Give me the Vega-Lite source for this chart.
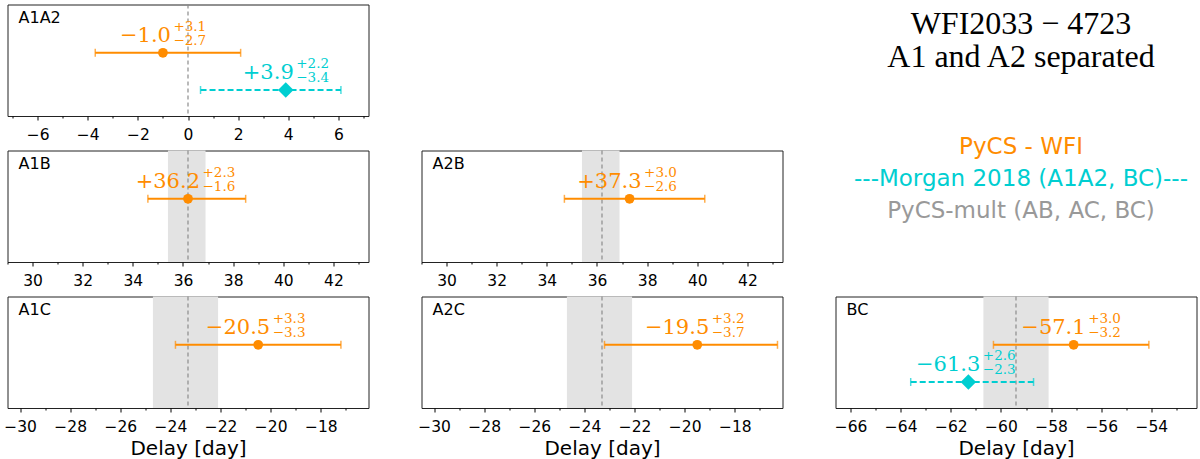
{
  "$schema": "https://vega.github.io/schema/vega-lite/v6.json",
  "padding": {"left": 2.5, "top": 2.5, "right": 0, "bottom": 0},
  "datasets": {
    "meas": [
      {"pair": "A1A2", "source": "PyCS - WFI", "delay": -1.0, "up": 3.1, "down": -2.7, "lo": -3.7, "hi": 2.1},
      {"pair": "A1A2", "source": "Morgan 2018", "delay": 3.9, "up": 2.2, "down": -3.4, "lo": 0.5, "hi": 6.1},
      {"pair": "A1B", "source": "PyCS - WFI", "delay": 36.2, "up": 2.3, "down": -1.6, "lo": 34.6, "hi": 38.5},
      {"pair": "A2B", "source": "PyCS - WFI", "delay": 37.3, "up": 3.0, "down": -2.6, "lo": 34.7, "hi": 40.3},
      {"pair": "A1C", "source": "PyCS - WFI", "delay": -20.5, "up": 3.3, "down": -3.3, "lo": -23.8, "hi": -17.2},
      {"pair": "A2C", "source": "PyCS - WFI", "delay": -19.5, "up": 3.2, "down": -3.7, "lo": -23.2, "hi": -16.3},
      {"pair": "BC", "source": "PyCS - WFI", "delay": -57.1, "up": 3.0, "down": -3.2, "lo": -60.3, "hi": -54.1},
      {"pair": "BC", "source": "Morgan 2018", "delay": -61.3, "up": 2.6, "down": -2.3, "lo": -63.6, "hi": -58.7}
    ],
    "refs": [
      {"pair": "A1A2", "ref": 0},
      {"pair": "A1B", "ref": 36.2, "lo": 35.4, "hi": 36.9},
      {"pair": "A2B", "ref": 36.2, "lo": 35.4, "hi": 36.9},
      {"pair": "A1C", "ref": -23.3, "lo": -24.7, "hi": -22.1},
      {"pair": "A2C", "ref": -23.3, "lo": -24.7, "hi": -22.1},
      {"pair": "BC", "ref": -59.4, "lo": -60.7, "hi": -58.1}
    ]
  },
  "bounds": "flush",
  "columns": 3,
  "spacing": {"row": 34, "column": 53},
  "concat": [
    {
      "width": 361, "height": 111.5,
      "title": {"text": "A1A2"},
      "layer": [
        {"data": {"name": "refs"}, "transform": [{"filter": "datum.pair === 'A1A2'"}],
         "mark": {"type": "rule", "color": "#8c8c8c", "strokeDash": [4, 3], "strokeWidth": 1.2},
         "encoding": {"x": {"field": "ref", "type": "quantitative", "scale": {"domain": [-7.2, 7.2], "nice": false, "zero": false},
           "axis": {"title": null, "tickCount": 15, "labelExpr": "datum.value % 2 === 0 ? datum.label : ''", "tickSize": {"condition": {"test": "datum.value % 2 === 0", "value": 4}, "value": 2}}}}},
        {"data": {"name": "meas"}, "transform": [{"filter": "datum.pair === 'A1A2'"}],
         "encoding": {
           "y": {"field": "source", "type": "nominal", "scale": {"type": "point", "domain": ["PyCS - WFI", "Morgan 2018"], "padding": 1.1667, "align": 0.65}, "axis": null},
           "color": {"field": "source", "type": "nominal", "scale": {"domain": ["PyCS - WFI", "Morgan 2018"], "range": ["#ff8c00", "#00ced1"]}, "legend": null}
         },
         "layer": [
           {"mark": {"type": "rule", "strokeWidth": 2}, "encoding": {"x": {"field": "lo", "type": "quantitative"}, "x2": {"field": "hi"}, "strokeDash": {"field": "source", "type": "nominal", "scale": {"domain": ["PyCS - WFI", "Morgan 2018"], "range": [[1, 0], [6, 3]]}, "legend": null}}},
           {"mark": {"type": "tick", "orient": "vertical", "size": 8, "thickness": 1.5}, "encoding": {"x": {"field": "lo", "type": "quantitative"}}},
           {"mark": {"type": "tick", "orient": "vertical", "size": 8, "thickness": 1.5}, "encoding": {"x": {"field": "hi", "type": "quantitative"}}},
           {"mark": {"type": "point", "filled": true, "opacity": 1}, "encoding": {"x": {"field": "delay", "type": "quantitative"}, "shape": {"field": "source", "type": "nominal", "scale": {"domain": ["PyCS - WFI", "Morgan 2018"], "range": ["circle", "diamond"]}, "legend": null}, "size": {"condition": {"test": "datum.source === 'Morgan 2018'", "value": 240}, "value": 95}}},
           {"mark": {"type": "text", "font": "DejaVu Serif", "fontSize": 21, "align": "right", "baseline": "alphabetic", "dx": 8, "dy": -10.5}, "encoding": {"x": {"field": "delay", "type": "quantitative"}, "text": {"field": "delay", "type": "quantitative", "format": "+.1f"}}},
           {"mark": {"type": "text", "font": "DejaVu Serif", "fontSize": 13.5, "align": "left", "baseline": "alphabetic", "dx": 10.5, "dy": -22}, "encoding": {"x": {"field": "delay", "type": "quantitative"}, "text": {"field": "up", "type": "quantitative", "format": "+.1f"}}},
           {"mark": {"type": "text", "font": "DejaVu Serif", "fontSize": 13.5, "align": "left", "baseline": "alphabetic", "dx": 10.5, "dy": -7.5}, "encoding": {"x": {"field": "delay", "type": "quantitative"}, "text": {"field": "down", "type": "quantitative", "format": "+.1f"}}}
         ]}
      ]
    },
    {
      "width": 361, "height": 111.5,
      "view": {"stroke": null},
      "data": {"values": []},
      "mark": {"type": "point"},
      "encoding": {}
    },
    {
      "width": 361, "height": 111.5,
      "view": {"stroke": null},
      "data": {"values": [{"t": "WFI2033 − 4723\nA1 and A2 separated"}]},
      "mark": {"type": "text", "font": "Liberation Serif", "fontSize": 32, "lineBreak": "\n", "lineHeight": 33.3, "align": "center", "baseline": "alphabetic", "dx": 5, "dy": -26.75, "color": "#000"},
      "encoding": {"text": {"field": "t", "type": "nominal"}}
    },
    {
      "width": 361, "height": 111.5,
      "title": {"text": "A1B"},
      "layer": [
        {"data": {"name": "refs"}, "transform": [{"filter": "datum.pair === 'A1B'"}],
         "mark": {"type": "rect", "color": "#e3e3e3"},
         "encoding": {"x": {"field": "lo", "type": "quantitative", "scale": {"domain": [29.0, 43.4], "nice": false, "zero": false},
           "axis": {"title": null, "tickCount": 15, "labelExpr": "datum.value % 2 === 0 ? datum.label : ''", "tickSize": {"condition": {"test": "datum.value % 2 === 0", "value": 4}, "value": 2}}}, "x2": {"field": "hi"}}},
        {"data": {"name": "refs"}, "transform": [{"filter": "datum.pair === 'A1B'"}],
         "mark": {"type": "rule", "color": "#8c8c8c", "strokeDash": [4, 3], "strokeWidth": 1.2},
         "encoding": {"x": {"field": "ref", "type": "quantitative"}}},
        {"data": {"name": "meas"}, "transform": [{"filter": "datum.pair === 'A1B'"}],
         "encoding": {
           "y": {"field": "source", "type": "nominal", "scale": {"type": "point", "domain": ["PyCS - WFI", "Morgan 2018"], "padding": 1.1667, "align": 0.65}, "axis": null},
           "color": {"field": "source", "type": "nominal", "scale": {"domain": ["PyCS - WFI", "Morgan 2018"], "range": ["#ff8c00", "#00ced1"]}, "legend": null}
         },
         "layer": [
           {"mark": {"type": "rule", "strokeWidth": 2}, "encoding": {"x": {"field": "lo", "type": "quantitative"}, "x2": {"field": "hi"}, "strokeDash": {"field": "source", "type": "nominal", "scale": {"domain": ["PyCS - WFI", "Morgan 2018"], "range": [[1, 0], [6, 3]]}, "legend": null}}},
           {"mark": {"type": "tick", "orient": "vertical", "size": 8, "thickness": 1.5}, "encoding": {"x": {"field": "lo", "type": "quantitative"}}},
           {"mark": {"type": "tick", "orient": "vertical", "size": 8, "thickness": 1.5}, "encoding": {"x": {"field": "hi", "type": "quantitative"}}},
           {"mark": {"type": "point", "filled": true, "opacity": 1}, "encoding": {"x": {"field": "delay", "type": "quantitative"}, "shape": {"field": "source", "type": "nominal", "scale": {"domain": ["PyCS - WFI", "Morgan 2018"], "range": ["circle", "diamond"]}, "legend": null}, "size": {"condition": {"test": "datum.source === 'Morgan 2018'", "value": 240}, "value": 95}}},
           {"mark": {"type": "text", "font": "DejaVu Serif", "fontSize": 21, "align": "right", "baseline": "alphabetic", "dx": 12, "dy": -10.5}, "encoding": {"x": {"field": "delay", "type": "quantitative"}, "text": {"field": "delay", "type": "quantitative", "format": "+.1f"}}},
           {"mark": {"type": "text", "font": "DejaVu Serif", "fontSize": 13.5, "align": "left", "baseline": "alphabetic", "dx": 14.5, "dy": -22}, "encoding": {"x": {"field": "delay", "type": "quantitative"}, "text": {"field": "up", "type": "quantitative", "format": "+.1f"}}},
           {"mark": {"type": "text", "font": "DejaVu Serif", "fontSize": 13.5, "align": "left", "baseline": "alphabetic", "dx": 14.5, "dy": -7.5}, "encoding": {"x": {"field": "delay", "type": "quantitative"}, "text": {"field": "down", "type": "quantitative", "format": "+.1f"}}}
         ]}
      ]
    },
    {
      "width": 361, "height": 111.5,
      "title": {"text": "A2B"},
      "layer": [
        {"data": {"name": "refs"}, "transform": [{"filter": "datum.pair === 'A2B'"}],
         "mark": {"type": "rect", "color": "#e3e3e3"},
         "encoding": {"x": {"field": "lo", "type": "quantitative", "scale": {"domain": [29.0, 43.4], "nice": false, "zero": false},
           "axis": {"title": null, "tickCount": 15, "labelExpr": "datum.value % 2 === 0 ? datum.label : ''", "tickSize": {"condition": {"test": "datum.value % 2 === 0", "value": 4}, "value": 2}}}, "x2": {"field": "hi"}}},
        {"data": {"name": "refs"}, "transform": [{"filter": "datum.pair === 'A2B'"}],
         "mark": {"type": "rule", "color": "#8c8c8c", "strokeDash": [4, 3], "strokeWidth": 1.2},
         "encoding": {"x": {"field": "ref", "type": "quantitative"}}},
        {"data": {"name": "meas"}, "transform": [{"filter": "datum.pair === 'A2B'"}],
         "encoding": {
           "y": {"field": "source", "type": "nominal", "scale": {"type": "point", "domain": ["PyCS - WFI", "Morgan 2018"], "padding": 1.1667, "align": 0.65}, "axis": null},
           "color": {"field": "source", "type": "nominal", "scale": {"domain": ["PyCS - WFI", "Morgan 2018"], "range": ["#ff8c00", "#00ced1"]}, "legend": null}
         },
         "layer": [
           {"mark": {"type": "rule", "strokeWidth": 2}, "encoding": {"x": {"field": "lo", "type": "quantitative"}, "x2": {"field": "hi"}, "strokeDash": {"field": "source", "type": "nominal", "scale": {"domain": ["PyCS - WFI", "Morgan 2018"], "range": [[1, 0], [6, 3]]}, "legend": null}}},
           {"mark": {"type": "tick", "orient": "vertical", "size": 8, "thickness": 1.5}, "encoding": {"x": {"field": "lo", "type": "quantitative"}}},
           {"mark": {"type": "tick", "orient": "vertical", "size": 8, "thickness": 1.5}, "encoding": {"x": {"field": "hi", "type": "quantitative"}}},
           {"mark": {"type": "point", "filled": true, "opacity": 1}, "encoding": {"x": {"field": "delay", "type": "quantitative"}, "shape": {"field": "source", "type": "nominal", "scale": {"domain": ["PyCS - WFI", "Morgan 2018"], "range": ["circle", "diamond"]}, "legend": null}, "size": {"condition": {"test": "datum.source === 'Morgan 2018'", "value": 240}, "value": 95}}},
           {"mark": {"type": "text", "font": "DejaVu Serif", "fontSize": 21, "align": "right", "baseline": "alphabetic", "dx": 12, "dy": -10.5}, "encoding": {"x": {"field": "delay", "type": "quantitative"}, "text": {"field": "delay", "type": "quantitative", "format": "+.1f"}}},
           {"mark": {"type": "text", "font": "DejaVu Serif", "fontSize": 13.5, "align": "left", "baseline": "alphabetic", "dx": 14.5, "dy": -22}, "encoding": {"x": {"field": "delay", "type": "quantitative"}, "text": {"field": "up", "type": "quantitative", "format": "+.1f"}}},
           {"mark": {"type": "text", "font": "DejaVu Serif", "fontSize": 13.5, "align": "left", "baseline": "alphabetic", "dx": 14.5, "dy": -7.5}, "encoding": {"x": {"field": "delay", "type": "quantitative"}, "text": {"field": "down", "type": "quantitative", "format": "+.1f"}}}
         ]}
      ]
    },
    {
      "width": 361, "height": 111.5,
      "view": {"stroke": null},
      "data": {"values": [{"entry": "PyCS - WFI"}, {"entry": "---Morgan 2018 (A1A2, BC)---"}, {"entry": "PyCS-mult (AB, AC, BC)"}]},
      "mark": {"type": "text", "font": "DejaVu Sans", "fontSize": 23, "align": "center", "baseline": "alphabetic", "dx": 5, "dy": -20.4},
      "encoding": {
        "y": {"field": "entry", "type": "nominal", "sort": null, "scale": {"type": "point", "padding": 0.75}, "axis": null},
        "text": {"field": "entry", "type": "nominal"},
        "color": {"condition": [{"test": "datum.entry === 'PyCS - WFI'", "value": "#ff8c00"}, {"test": "datum.entry === '---Morgan 2018 (A1A2, BC)---'", "value": "#00ced1"}], "value": "#999999"}
      }
    },
    {
      "width": 361, "height": 111.5,
      "title": {"text": "A1C"},
      "layer": [
        {"data": {"name": "refs"}, "transform": [{"filter": "datum.pair === 'A1C'"}],
         "mark": {"type": "rect", "color": "#e3e3e3"},
         "encoding": {"x": {"field": "lo", "type": "quantitative", "scale": {"domain": [-30.5, -16.1], "nice": false, "zero": false},
           "axis": {"title": "Delay [day]", "tickCount": 15, "labelExpr": "datum.value % 2 === 0 ? datum.label : ''", "tickSize": {"condition": {"test": "datum.value % 2 === 0", "value": 4}, "value": 2}}}, "x2": {"field": "hi"}}},
        {"data": {"name": "refs"}, "transform": [{"filter": "datum.pair === 'A1C'"}],
         "mark": {"type": "rule", "color": "#8c8c8c", "strokeDash": [4, 3], "strokeWidth": 1.2},
         "encoding": {"x": {"field": "ref", "type": "quantitative"}}},
        {"data": {"name": "meas"}, "transform": [{"filter": "datum.pair === 'A1C'"}],
         "encoding": {
           "y": {"field": "source", "type": "nominal", "scale": {"type": "point", "domain": ["PyCS - WFI", "Morgan 2018"], "padding": 1.1667, "align": 0.65}, "axis": null},
           "color": {"field": "source", "type": "nominal", "scale": {"domain": ["PyCS - WFI", "Morgan 2018"], "range": ["#ff8c00", "#00ced1"]}, "legend": null}
         },
         "layer": [
           {"mark": {"type": "rule", "strokeWidth": 2}, "encoding": {"x": {"field": "lo", "type": "quantitative"}, "x2": {"field": "hi"}, "strokeDash": {"field": "source", "type": "nominal", "scale": {"domain": ["PyCS - WFI", "Morgan 2018"], "range": [[1, 0], [6, 3]]}, "legend": null}}},
           {"mark": {"type": "tick", "orient": "vertical", "size": 8, "thickness": 1.5}, "encoding": {"x": {"field": "lo", "type": "quantitative"}}},
           {"mark": {"type": "tick", "orient": "vertical", "size": 8, "thickness": 1.5}, "encoding": {"x": {"field": "hi", "type": "quantitative"}}},
           {"mark": {"type": "point", "filled": true, "opacity": 1}, "encoding": {"x": {"field": "delay", "type": "quantitative"}, "shape": {"field": "source", "type": "nominal", "scale": {"domain": ["PyCS - WFI", "Morgan 2018"], "range": ["circle", "diamond"]}, "legend": null}, "size": {"condition": {"test": "datum.source === 'Morgan 2018'", "value": 240}, "value": 95}}},
           {"mark": {"type": "text", "font": "DejaVu Serif", "fontSize": 21, "align": "right", "baseline": "alphabetic", "dx": 12, "dy": -10.5}, "encoding": {"x": {"field": "delay", "type": "quantitative"}, "text": {"field": "delay", "type": "quantitative", "format": "+.1f"}}},
           {"mark": {"type": "text", "font": "DejaVu Serif", "fontSize": 13.5, "align": "left", "baseline": "alphabetic", "dx": 14.5, "dy": -22}, "encoding": {"x": {"field": "delay", "type": "quantitative"}, "text": {"field": "up", "type": "quantitative", "format": "+.1f"}}},
           {"mark": {"type": "text", "font": "DejaVu Serif", "fontSize": 13.5, "align": "left", "baseline": "alphabetic", "dx": 14.5, "dy": -7.5}, "encoding": {"x": {"field": "delay", "type": "quantitative"}, "text": {"field": "down", "type": "quantitative", "format": "+.1f"}}}
         ]}
      ]
    },
    {
      "width": 361, "height": 111.5,
      "title": {"text": "A2C"},
      "layer": [
        {"data": {"name": "refs"}, "transform": [{"filter": "datum.pair === 'A2C'"}],
         "mark": {"type": "rect", "color": "#e3e3e3"},
         "encoding": {"x": {"field": "lo", "type": "quantitative", "scale": {"domain": [-30.5, -16.1], "nice": false, "zero": false},
           "axis": {"title": "Delay [day]", "tickCount": 15, "labelExpr": "datum.value % 2 === 0 ? datum.label : ''", "tickSize": {"condition": {"test": "datum.value % 2 === 0", "value": 4}, "value": 2}}}, "x2": {"field": "hi"}}},
        {"data": {"name": "refs"}, "transform": [{"filter": "datum.pair === 'A2C'"}],
         "mark": {"type": "rule", "color": "#8c8c8c", "strokeDash": [4, 3], "strokeWidth": 1.2},
         "encoding": {"x": {"field": "ref", "type": "quantitative"}}},
        {"data": {"name": "meas"}, "transform": [{"filter": "datum.pair === 'A2C'"}],
         "encoding": {
           "y": {"field": "source", "type": "nominal", "scale": {"type": "point", "domain": ["PyCS - WFI", "Morgan 2018"], "padding": 1.1667, "align": 0.65}, "axis": null},
           "color": {"field": "source", "type": "nominal", "scale": {"domain": ["PyCS - WFI", "Morgan 2018"], "range": ["#ff8c00", "#00ced1"]}, "legend": null}
         },
         "layer": [
           {"mark": {"type": "rule", "strokeWidth": 2}, "encoding": {"x": {"field": "lo", "type": "quantitative"}, "x2": {"field": "hi"}, "strokeDash": {"field": "source", "type": "nominal", "scale": {"domain": ["PyCS - WFI", "Morgan 2018"], "range": [[1, 0], [6, 3]]}, "legend": null}}},
           {"mark": {"type": "tick", "orient": "vertical", "size": 8, "thickness": 1.5}, "encoding": {"x": {"field": "lo", "type": "quantitative"}}},
           {"mark": {"type": "tick", "orient": "vertical", "size": 8, "thickness": 1.5}, "encoding": {"x": {"field": "hi", "type": "quantitative"}}},
           {"mark": {"type": "point", "filled": true, "opacity": 1}, "encoding": {"x": {"field": "delay", "type": "quantitative"}, "shape": {"field": "source", "type": "nominal", "scale": {"domain": ["PyCS - WFI", "Morgan 2018"], "range": ["circle", "diamond"]}, "legend": null}, "size": {"condition": {"test": "datum.source === 'Morgan 2018'", "value": 240}, "value": 95}}},
           {"mark": {"type": "text", "font": "DejaVu Serif", "fontSize": 21, "align": "right", "baseline": "alphabetic", "dx": 12, "dy": -10.5}, "encoding": {"x": {"field": "delay", "type": "quantitative"}, "text": {"field": "delay", "type": "quantitative", "format": "+.1f"}}},
           {"mark": {"type": "text", "font": "DejaVu Serif", "fontSize": 13.5, "align": "left", "baseline": "alphabetic", "dx": 14.5, "dy": -22}, "encoding": {"x": {"field": "delay", "type": "quantitative"}, "text": {"field": "up", "type": "quantitative", "format": "+.1f"}}},
           {"mark": {"type": "text", "font": "DejaVu Serif", "fontSize": 13.5, "align": "left", "baseline": "alphabetic", "dx": 14.5, "dy": -7.5}, "encoding": {"x": {"field": "delay", "type": "quantitative"}, "text": {"field": "down", "type": "quantitative", "format": "+.1f"}}}
         ]}
      ]
    },
    {
      "width": 361, "height": 111.5,
      "title": {"text": "BC"},
      "layer": [
        {"data": {"name": "refs"}, "transform": [{"filter": "datum.pair === 'BC'"}],
         "mark": {"type": "rect", "color": "#e3e3e3"},
         "encoding": {"x": {"field": "lo", "type": "quantitative", "scale": {"domain": [-66.6, -52.2], "nice": false, "zero": false},
           "axis": {"title": "Delay [day]", "tickCount": 15, "labelExpr": "datum.value % 2 === 0 ? datum.label : ''", "tickSize": {"condition": {"test": "datum.value % 2 === 0", "value": 4}, "value": 2}}}, "x2": {"field": "hi"}}},
        {"data": {"name": "refs"}, "transform": [{"filter": "datum.pair === 'BC'"}],
         "mark": {"type": "rule", "color": "#8c8c8c", "strokeDash": [4, 3], "strokeWidth": 1.2},
         "encoding": {"x": {"field": "ref", "type": "quantitative"}}},
        {"data": {"name": "meas"}, "transform": [{"filter": "datum.pair === 'BC'"}],
         "encoding": {
           "y": {"field": "source", "type": "nominal", "scale": {"type": "point", "domain": ["PyCS - WFI", "Morgan 2018"], "padding": 1.1667, "align": 0.65}, "axis": null},
           "color": {"field": "source", "type": "nominal", "scale": {"domain": ["PyCS - WFI", "Morgan 2018"], "range": ["#ff8c00", "#00ced1"]}, "legend": null}
         },
         "layer": [
           {"mark": {"type": "rule", "strokeWidth": 2}, "encoding": {"x": {"field": "lo", "type": "quantitative"}, "x2": {"field": "hi"}, "strokeDash": {"field": "source", "type": "nominal", "scale": {"domain": ["PyCS - WFI", "Morgan 2018"], "range": [[1, 0], [6, 3]]}, "legend": null}}},
           {"mark": {"type": "tick", "orient": "vertical", "size": 8, "thickness": 1.5}, "encoding": {"x": {"field": "lo", "type": "quantitative"}}},
           {"mark": {"type": "tick", "orient": "vertical", "size": 8, "thickness": 1.5}, "encoding": {"x": {"field": "hi", "type": "quantitative"}}},
           {"mark": {"type": "point", "filled": true, "opacity": 1}, "encoding": {"x": {"field": "delay", "type": "quantitative"}, "shape": {"field": "source", "type": "nominal", "scale": {"domain": ["PyCS - WFI", "Morgan 2018"], "range": ["circle", "diamond"]}, "legend": null}, "size": {"condition": {"test": "datum.source === 'Morgan 2018'", "value": 240}, "value": 95}}},
           {"mark": {"type": "text", "font": "DejaVu Serif", "fontSize": 21, "align": "right", "baseline": "alphabetic", "dx": 12, "dy": -10.5}, "encoding": {"x": {"field": "delay", "type": "quantitative"}, "text": {"field": "delay", "type": "quantitative", "format": "+.1f"}}},
           {"mark": {"type": "text", "font": "DejaVu Serif", "fontSize": 13.5, "align": "left", "baseline": "alphabetic", "dx": 14.5, "dy": -22}, "encoding": {"x": {"field": "delay", "type": "quantitative"}, "text": {"field": "up", "type": "quantitative", "format": "+.1f"}}},
           {"mark": {"type": "text", "font": "DejaVu Serif", "fontSize": 13.5, "align": "left", "baseline": "alphabetic", "dx": 14.5, "dy": -7.5}, "encoding": {"x": {"field": "delay", "type": "quantitative"}, "text": {"field": "down", "type": "quantitative", "format": "+.1f"}}}
         ]}
      ]
    }
  ],
  "config": {
    "background": "white",
    "font": "DejaVu Sans",
    "view": {"stroke": "#222222", "strokeWidth": 1},
    "axis": {"domain": false, "grid": false, "tickColor": "#000000", "tickWidth": 1, "labelFont": "DejaVu Sans", "labelFontSize": 15.5, "labelColor": "#000000", "labelPadding": 7.5, "labelFlush": false, "labelOverlap": false, "titleFont": "DejaVu Sans", "titleFontSize": 20, "titleFontWeight": "normal", "titleColor": "#000000", "titlePadding": 3},
    "title": {"anchor": "start", "frame": "group", "orient": "top", "offset": -22, "baseline": "alphabetic", "dx": 11, "font": "DejaVu Sans", "fontSize": 16, "fontWeight": "normal", "color": "#000000"}
  }
}
